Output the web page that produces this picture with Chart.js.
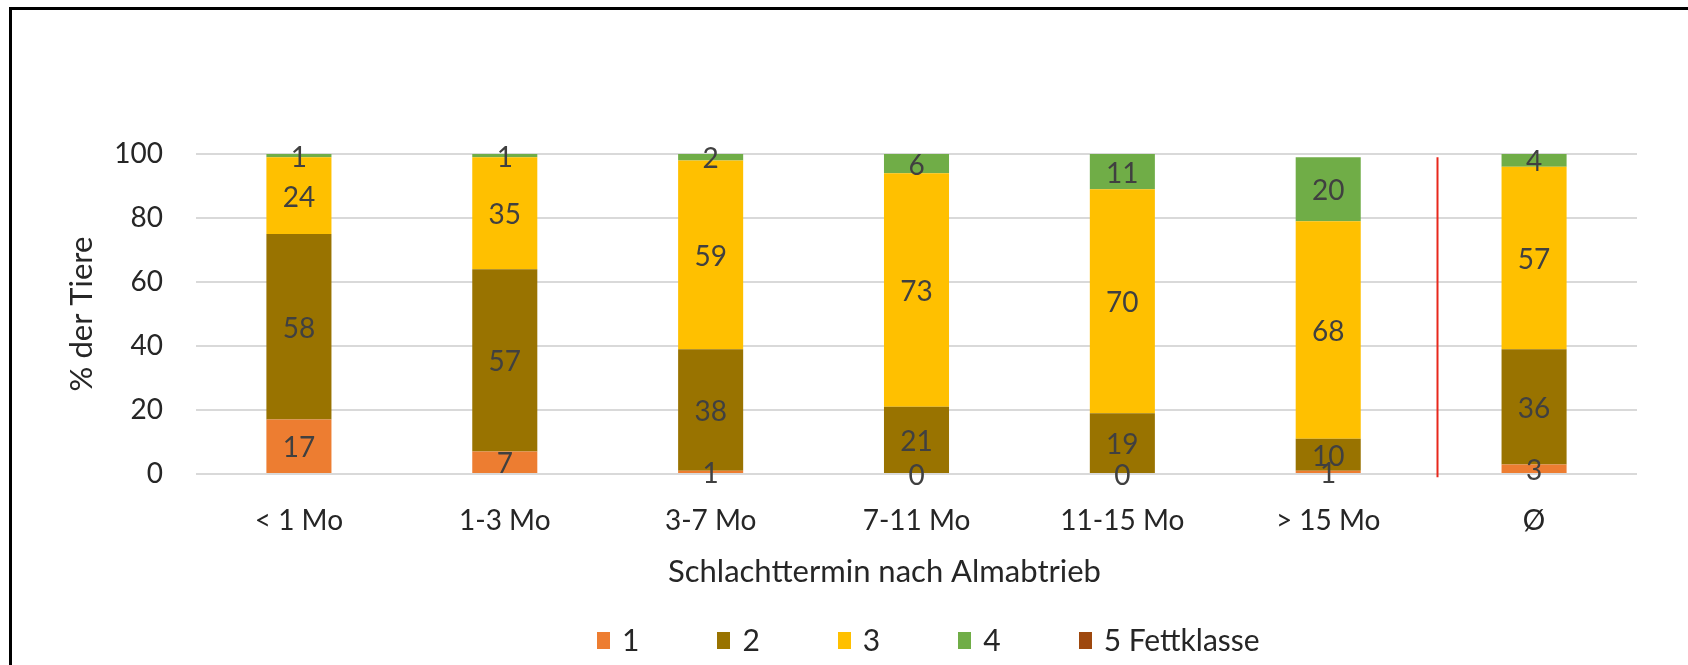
<!DOCTYPE html>
<html lang="de">
<head>
<meta charset="utf-8">
<title>Fettklasse nach Schlachttermin</title>
<script src="https://cdn.jsdelivr.net/npm/chart.js@4.4.1/dist/chart.umd.min.js"></script>
<style>
  html, body { margin: 0; padding: 0; background: #fff; }
  #wrap { position: relative; width: 1688px; height: 665px; overflow: hidden; }
  #chart { position: absolute; left: 0; top: 0; }
  /* schwarzer Rahmen oben und links */
  #frame { position: absolute; left: 9px; top: 7px; width: 1720px; height: 700px;
           border-top: 3px solid #000; border-left: 3px solid #000; pointer-events: none; }
  #legend { position: absolute; left: 597px; top: 624px; display: flex; align-items: flex-start;
            font: 30px Lato, sans-serif; line-height: 30px; color: #262626; white-space: nowrap; }
  #legend .item { display: flex; align-items: flex-start; margin-right: 78px; }
  #legend .box { width: 13px; height: 17px; margin-top: 8px; margin-right: 12px; }
</style>
</head>
<body>
<div id="wrap">
  <canvas id="chart" width="1688" height="665"></canvas>
  <div id="legend"></div>
  <div id="frame"></div>
</div>
<script>
// Anteil der Tiere je Fettklasse (%), nach Schlachttermin
const categories = ['< 1 Mo', '1-3 Mo', '3-7 Mo', '7-11 Mo', '11-15 Mo', '> 15 Mo', 'Ø'];
const klasse1 = [17, 7, 1, 0, 0, 1, 3];
const klasse2 = [58, 57, 38, 21, 19, 10, 36];
const klasse3 = [24, 35, 59, 73, 70, 68, 57];
const klasse4 = [1, 1, 2, 6, 11, 20, 4];
const klasse5 = [0, 0, 0, 0.3, 0, 0, 0.3];
const yTicks = [0, 20, 40, 60, 80, 100];

const FONT = 'Lato';
const TEXT = '#262626';
const X_TITLE = 'Schlachttermin nach Almabtrieb';

// Zahlen mittig in die Segmente schreiben (Klasse 5 ohne Beschriftung)
const segmentLabels = {
  id: 'segmentLabels',
  afterDatasetsDraw(chart) {
    const ctx = chart.ctx;
    ctx.save();
    ctx.font = '28px ' + FONT;
    ctx.fillStyle = '#404040';
    ctx.textAlign = 'center';
    ctx.textBaseline = 'middle';
    chart.data.datasets.forEach((ds, i) => {
      if (!ds.showValues) return;
      chart.getDatasetMeta(i).data.forEach((bar, j) => {
        ctx.fillText(String(ds.data[j]), bar.x, (bar.y + bar.base) / 2 + 2);
      });
    });
    ctx.restore();
  }
};

// rote Trennlinie vor dem Mittelwert
const separator = {
  id: 'separator',
  afterDatasetsDraw(chart) {
    const { ctx, scales: { x, y } } = chart;
    const px = Math.round(x.getPixelForValue(5.53)) + 0.5;
    ctx.save();
    ctx.strokeStyle = '#e8281c';
    ctx.lineWidth = 2;
    ctx.beginPath();
    ctx.moveTo(px, y.getPixelForValue(99));
    ctx.lineTo(px, y.getPixelForValue(-1));
    ctx.stroke();
    ctx.restore();
  }
};

// x-Achsentitel, etwas links von der Mitte
const xTitle = {
  id: 'xTitle',
  afterDraw(chart) {
    const { ctx, chartArea, scales: { x } } = chart;
    ctx.save();
    ctx.font = '31px ' + FONT;
    ctx.fillStyle = TEXT;
    ctx.textAlign = 'center';
    ctx.textBaseline = 'middle';
    ctx.fillText(X_TITLE, (chartArea.left + chartArea.right) / 2 - 32, x.bottom - 19);
    ctx.restore();
  }
};

function buildLegend(chart) {
  const el = document.getElementById('legend');
  el.innerHTML = '';
  chart.data.datasets.forEach(ds => {
    const item = document.createElement('div');
    item.className = 'item';
    item.innerHTML = `<span class="box" style="background:${ds.backgroundColor}"></span><span>${ds.label}</span>`;
    el.appendChild(item);
  });
}

function draw() {
  const chart = new Chart(document.getElementById('chart'), {
    type: 'bar',
    data: {
      labels: categories,
      datasets: [
        { label: '1', data: klasse1, backgroundColor: '#ED7D31', showValues: true },
        { label: '2', data: klasse2, backgroundColor: '#997300', showValues: true },
        { label: '3', data: klasse3, backgroundColor: '#FFC000', showValues: true },
        { label: '4', data: klasse4, backgroundColor: '#70AD47', showValues: true },
        { label: '5 Fettklasse', data: klasse5, backgroundColor: '#9E480E', showValues: false }
      ]
    },
    options: {
      responsive: false,
      animation: false,
      devicePixelRatio: 1,
      datasets: { bar: { categoryPercentage: 1, barPercentage: 0.316, borderWidth: 0 } },
      layout: { padding: { left: 0, right: 51, top: 154, bottom: 74 } },
      plugins: { legend: { display: false }, tooltip: { enabled: false } },
      scales: {
        x: {
          stacked: true,
          grid: { display: false, drawTicks: false },
          border: { display: false },
          ticks: { font: { family: FONT, size: 28 }, color: TEXT, padding: 30 },
          afterFit(scale) { scale.height = 117; }
        },
        y: {
          stacked: true,
          min: 0,
          max: 100,
          afterBuildTicks(scale) { scale.ticks = yTicks.map(v => ({ value: v })); },
          grid: { color: '#d9d9d9', lineWidth: 2, drawTicks: false },
          border: { display: false },
          ticks: { font: { family: FONT, size: 28 }, color: TEXT, padding: 33 },
          title: { display: true, text: '% der Tiere',
                   font: { family: FONT, size: 31 }, color: TEXT, padding: { top: 63, bottom: 0 } },
          afterFit(scale) { scale.width = 196; }
        }
      }
    },
    plugins: [segmentLabels, separator, xTitle]
  });
  buildLegend(chart);
}

document.fonts.load('28px ' + FONT).then(draw, draw);
</script>
</body>
</html>
